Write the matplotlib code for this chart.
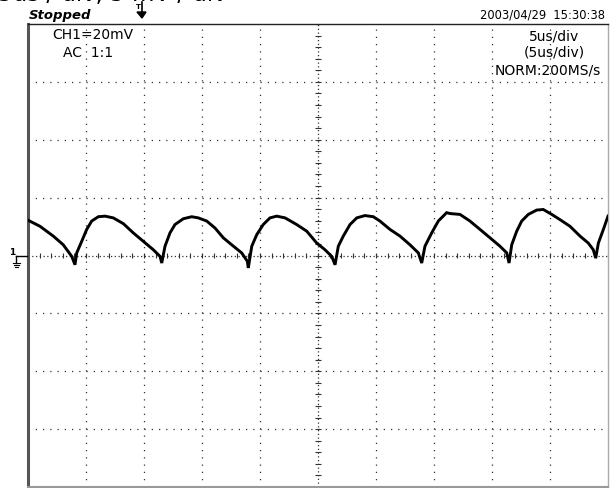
import numpy as np
import matplotlib
matplotlib.use("Agg")
import matplotlib.pyplot as plt

# scope settings
t_per_div = 5.0     # us / div
v_per_div = 20.0    # mV / div
n_xdiv = 10
n_ydiv = 8

# trace (time in us, voltage in mV)
t_us = [0.0, 1.03, 2.18, 3.04, 3.77, 4.05, 4.20, 4.63, 5.06, 5.49, 6.06, 6.64,
        7.35, 8.22, 9.08, 9.94, 10.80, 11.38, 11.53, 11.81, 12.24, 12.67, 13.39,
        14.11, 14.68, 15.41, 16.12, 16.84, 17.56, 18.42, 18.91, 18.99, 19.29,
        19.72, 20.28, 20.86, 21.44, 22.16, 23.16, 24.03, 24.89, 25.60, 26.18,
        26.47, 26.75, 27.18, 27.76, 28.34, 29.05, 29.77, 30.34, 31.21, 32.07,
        32.93, 33.65, 33.94, 34.22, 34.80, 35.37, 36.09, 36.38, 37.24, 38.10,
        38.97, 39.83, 40.69, 41.27, 41.47, 41.70, 42.13, 42.56, 43.13, 43.85,
        44.42, 45.15, 45.86, 46.72, 47.59, 48.30, 48.73, 48.94, 49.17, 49.60,
        50.0]
v_mv = [12.2, 10.1, 6.7, 3.7, -0.3, -3.2, 0.9, 4.9, 9.0, 11.9, 13.4, 13.6,
        13.0, 11.0, 7.8, 4.9, 2.0, -0.3, -2.6, 3.2, 7.8, 10.7, 12.7,
        13.4, 13.0, 11.9, 9.5, 6.1, 3.7, 0.9, -2.0, -4.3, 3.2,
        7.2, 10.7, 13.0, 13.6, 13.0, 10.7, 8.4, 4.3, 2.0, -0.3,
        -3.2, 3.2, 6.7, 10.7, 13.0, 13.8, 13.4, 11.9, 9.0, 6.7,
        3.7, 0.9, -2.6, 3.2, 7.8, 11.9, 14.8, 14.5, 14.2, 11.9,
        9.0, 6.1, 3.2, 0.9, -2.6, 3.7, 8.4, 11.9, 14.2, 15.7,
        15.9, 14.2, 12.4, 10.1, 6.7, 4.3, 2.0, -0.9, 4.3, 9.0,
        13.6]

W, H = 610, 489
fig = plt.figure(figsize=(W / 100, H / 100), dpi=100)
ax = fig.add_axes([28 / W, 1 / H, 580 / W, 463 / H])

t_max = t_per_div * n_xdiv
v_half = v_per_div * n_ydiv / 2
ax.set_xlim(0, t_max)
ax.set_ylim(-v_half, v_half)
ax.set_xticks([])
ax.set_yticks([])

grid_col = "#333333"
dots = (0, (1, 4.8))
for i in range(1, n_xdiv):
    ls = (0, (1, 2)) if i == n_xdiv // 2 else dots
    ax.axvline(i * t_per_div, color=grid_col, lw=0.9, ls=ls, zorder=1)
for j in range(1, n_ydiv):
    v = -v_half + j * v_per_div
    ls = (0, (1, 2)) if j == n_ydiv // 2 else dots
    ax.axhline(v, color=grid_col, lw=0.9, ls=ls, zorder=1)

# minor ticks on the centre lines (5 per division)
tx = np.arange(0, t_max + 0.01, t_per_div / 5)
ax.vlines(tx, -0.9, 0.9, color=grid_col, lw=0.8, zorder=1)
vy = np.arange(-v_half, v_half + 0.01, v_per_div / 5)
ax.hlines(vy, t_max / 2 - 0.25, t_max / 2 + 0.25, color=grid_col, lw=0.8, zorder=1)

ax.plot(t_us, v_mv, color="black", lw=2.1, zorder=3, solid_joinstyle="miter")

ax.spines["left"].set_color("#555555")
ax.spines["left"].set_linewidth(2.2)
ax.spines["bottom"].set_color("#999999")
ax.spines["bottom"].set_linewidth(1.5)
ax.spines["top"].set_color("#222222")
ax.spines["top"].set_linewidth(1.0)
ax.spines["right"].set_color("#aaaaaa")
ax.spines["right"].set_linewidth(1.0)


def fx(x):
    return x / W


def fy(y):
    return 1 - y / H


font = "DejaVu Sans"
fig.text(fx(-2), fy(-5.5), "5us / div, 5 mV / div", fontsize=16.5, family=font,
         va="center", ha="left")
fig.text(fx(29), fy(15), "Stopped", fontsize=9.5, family=font, style="italic",
         weight="bold", va="center", ha="left")
fig.text(fx(605), fy(15), "2003/04/29  15:30:38", fontsize=8.3, family=font,
         va="center", ha="right")

fig.text(fx(52), fy(35), "CH1=20mV", fontsize=10, family=font, va="center", ha="left")
fig.text(fx(63), fy(53), "AC  1:1", fontsize=10, family=font, va="center", ha="left")
fig.text(fx(579), fy(37), "5us/div", fontsize=10, family=font, va="center", ha="right")
fig.text(fx(585), fy(53), "(5us/div)", fontsize=10, family=font, va="center", ha="right")
fig.text(fx(601), fy(70), "NORM:200MS/s", fontsize=10, family=font, va="center", ha="right")

# trigger position marker
fig.text(fx(138), fy(7), "T", fontsize=5, family=font, weight="bold", va="center", ha="center")
fig.add_artist(plt.Line2D([fx(142), fx(142)], [fy(3), fy(15)], color="black", lw=1.2))
fig.add_artist(plt.Polygon([[fx(137), fy(13)], [fx(146), fy(13)], [fx(142), fy(19)]],
                           closed=True, color="black"))

# ground marker for channel 1
fig.text(fx(12), fy(253), "1", fontsize=6.5, family=font, weight="bold", va="center", ha="center")
fig.add_artist(plt.Line2D([fx(16), fx(27)], [fy(257), fy(257)], color="black", lw=1.0))
fig.add_artist(plt.Line2D([fx(16), fx(16)], [fy(257), fy(264)], color="black", lw=1.0))
fig.add_artist(plt.Line2D([fx(13), fx(20)], [fy(264), fy(264)], color="black", lw=0.8))
fig.add_artist(plt.Line2D([fx(14), fx(19)], [fy(266), fy(266)], color="black", lw=0.8))
fig.add_artist(plt.Line2D([fx(15), fx(18)], [fy(268), fy(268)], color="black", lw=0.8))

fig.savefig("out.png", dpi=100)
